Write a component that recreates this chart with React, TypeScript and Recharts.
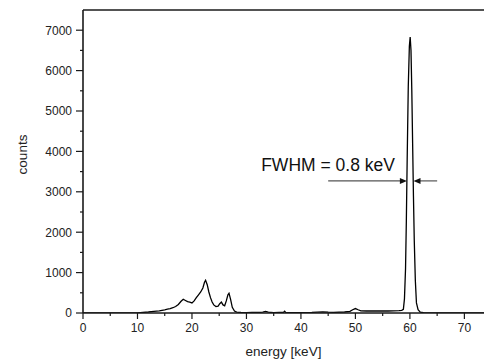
import React from 'react';
import { LineChart, Line, XAxis, YAxis, ReferenceLine } from 'recharts';

const energy = [
  0, 5, 9, 10, 11, 12, 13, 14, 15, 15.5, 16, 16.5, 17, 17.5, 18, 18.4, 18.8, 19.2, 19.6, 20,
  20.4, 20.8, 21.2, 21.6, 22, 22.3, 22.5, 22.8, 23.1, 23.4, 23.7, 24, 24.4, 24.8, 25.1, 25.4,
  25.7, 26, 26.3, 26.6, 26.8, 27.1, 27.4, 27.8, 28.2, 29, 30, 31, 32, 33, 33.5, 34, 35, 36,
  36.8, 37, 37.2, 38, 40, 42, 44, 45, 46, 48, 49, 49.5, 50, 50.5, 51, 52, 54, 56, 57, 58,
  58.5, 58.8, 59, 59.2, 59.35, 59.5, 59.7, 59.9, 60.05, 60.2, 60.35, 60.5, 60.65, 60.8, 61,
  61.2, 61.5, 61.9, 62.5, 64, 68, 73.6,
];
const counts = [
  0, 0, 0, 5, 15, 25, 40, 55, 80, 95, 110, 130, 160, 210, 290, 340, 310, 280, 270, 250,
  300, 380, 450, 520, 620, 760, 810, 700, 520, 380, 270, 200, 160, 170, 230, 270,
  200, 180, 300, 450, 490, 330, 140, 50, 20, 12, 10, 15, 12, 20, 40, 20, 10, 12,
  15, 45, 12, 10, 10, 15, 30, 20, 15, 25, 40, 80, 110, 80, 55, 50, 55, 50, 55, 60,
  65, 90, 350, 1100, 2300, 3800, 5600, 6600, 6830, 6500, 5500, 4200, 2900, 1800, 800,
  250, 80, 20, 10, 5, 0, 0,
];

const xTicks = [0, 5, 10, 15, 20, 25, 30, 35, 40, 45, 50, 55, 60, 65, 70];
const yTicks = [0, 500, 1000, 1500, 2000, 2500, 3000, 3500, 4000, 4500, 5000, 5500, 6000, 6500, 7000, 7500];

// FWHM marker: arrow start/end in data units
const fwhmLevel = 3270;
const leftArrow = [45.0, 59.45];
const rightArrow = [65.0, 60.66];
const fwhmText = 'FWHM = 0.8 keV';

const data = energy.map((e, i) => ({ energy: e, counts: counts[i] }));

const FONT = "'Liberation Sans', Arial, sans-serif";
const INK = '#1a1a1a';

function XTick(props: any) {
  const { x, y, payload } = props;
  const major = payload.value % 10 === 0;
  return (
    <g>
      <line x1={x} y1={y} x2={x} y2={y + (major ? 6 : 3)} stroke={INK} strokeWidth={1.2} />
      {major && (
        <text x={x} y={y + 19} textAnchor="middle" fontSize={12} fontFamily={FONT} fill="#222">
          {payload.value}
        </text>
      )}
    </g>
  );
}

function YTick(props: any) {
  const { x, y, payload } = props;
  const major = payload.value % 1000 === 0;
  if (payload.value > 7000) return <g />;
  return (
    <g>
      <line x1={x - (major ? 7 : 3)} y1={y} x2={x} y2={y} stroke={INK} strokeWidth={1.2} />
      {major && (
        <text x={x - 11} y={y + 4.3} textAnchor="end" fontSize={12} fontFamily={FONT} fill="#222">
          {payload.value}
        </text>
      )}
    </g>
  );
}

function YLabel(props: any) {
  const vb = props.viewBox;
  const cx = vb.x + 27;
  const cy = vb.y + vb.height / 2 - 7;
  return (
    <text x={cx} y={cy} transform={`rotate(-90 ${cx} ${cy})`} textAnchor="middle"
      fontSize={13.5} fontFamily={FONT} fill="#222">
      counts
    </text>
  );
}

function Arrow(props: any) {
  const { x1, y1, x2, y2, withText } = props;
  const dir = x2 > x1 ? 1 : -1;
  return (
    <g>
      <line x1={x1} y1={y1} x2={x2 - dir * 5} y2={y2} stroke="#555" strokeWidth={1.2} />
      <polygon points={`${x2},${y2} ${x2 - dir * 7},${y2 - 3} ${x2 - dir * 7},${y2 + 3}`} fill="#111" />
      {withText && (
        <text x={x2 - 12} y={y1 - 9.5} textAnchor="end" fontSize={17.5} fontFamily={FONT} fill="#111">
          {fwhmText}
        </text>
      )}
    </g>
  );
}

export default function App() {
  return (
    <div style={{ position: 'absolute', left: 0, top: 0, width: 484, height: 360, background: '#fff' }}>
      <LineChart width={484} height={360} data={data} margin={{ top: 10, right: 0, left: 0, bottom: 0 }}>
        <XAxis
          dataKey="energy"
          type="number"
          domain={[0, 73.6]}
          allowDataOverflow
          ticks={xTicks}
          interval={0}
          tick={<XTick />}
          tickLine={false}
          tickSize={0}
          tickMargin={0}
          height={47}
          axisLine={{ stroke: INK, strokeWidth: 1.6 }}
          label={{ value: 'energy [keV]', position: 'insideBottom', offset: 4, fontSize: 13.5, fontFamily: FONT, fill: '#222' }}
        />
        <YAxis
          type="number"
          domain={[0, 7500]}
          allowDataOverflow
          ticks={yTicks}
          interval={0}
          tick={<YTick />}
          tickLine={false}
          tickSize={0}
          tickMargin={0}
          width={83}
          axisLine={{ stroke: INK, strokeWidth: 1.6 }}
          label={<YLabel />}
        />
        <ReferenceLine y={7500} stroke={INK} strokeWidth={1.6} ifOverflow="visible" />
        <Line
          dataKey="counts"
          type="linear"
          stroke="#000"
          strokeWidth={1.3}
          dot={false}
          isAnimationActive={false}
        />
        <ReferenceLine
          segment={[{ x: leftArrow[0], y: fwhmLevel }, { x: leftArrow[1], y: fwhmLevel }]}
          shape={(p: any) => <Arrow {...p} withText />}
          ifOverflow="visible"
        />
        <ReferenceLine
          segment={[{ x: rightArrow[0], y: fwhmLevel }, { x: rightArrow[1], y: fwhmLevel }]}
          shape={(p: any) => <Arrow {...p} />}
          ifOverflow="visible"
        />
      </LineChart>
    </div>
  );
}
